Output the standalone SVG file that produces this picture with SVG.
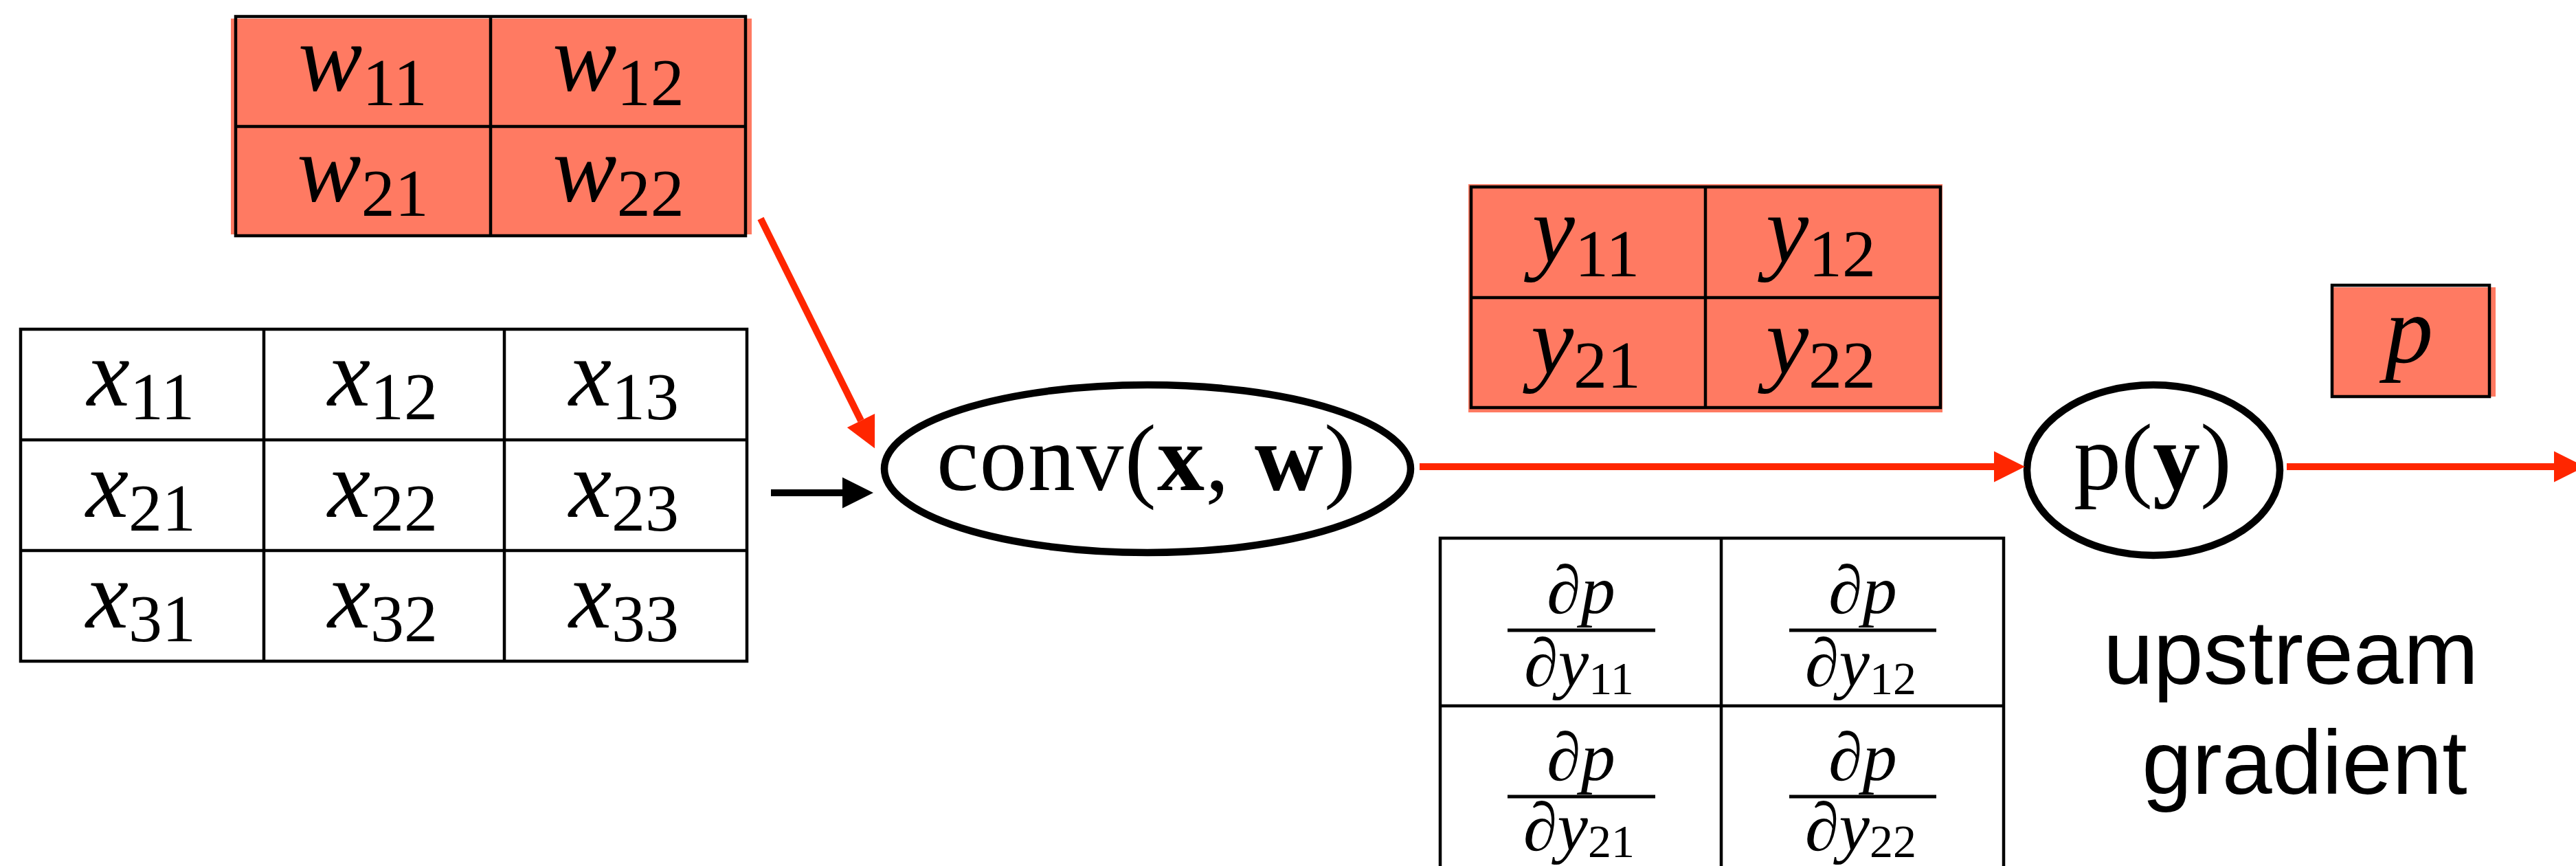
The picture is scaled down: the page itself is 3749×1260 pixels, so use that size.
<svg xmlns="http://www.w3.org/2000/svg" width="3749" height="1260" viewBox="0 0 3749 1260">
<style>
.bg{fill:#fff}
.fill{fill:#FF7A62}
.grid{fill:none;stroke:#000;stroke-width:4.5}
.node{fill:#fff;stroke:#000;stroke-width:10.5}
.m{font-family:"Liberation Serif","Times New Roman",serif;font-style:italic;font-size:140px;fill:#000}
.sub{font-style:normal;font-size:98px}
.fr{font-family:"Liberation Serif","Times New Roman",serif;font-style:italic;font-size:100px;fill:#000}
.fsub{font-style:normal;font-size:68px}
.rm{font-family:"Liberation Serif","Times New Roman",serif;font-size:138px;fill:#000}
.b{font-weight:bold}
.lbl{font-family:"Liberation Sans",Arial,sans-serif;font-size:131px;fill:#000}
.red{stroke:#FF2600;stroke-width:10;fill:none}
.blk{stroke:#000;stroke-width:10;fill:none}
.bar{stroke:#000;stroke-width:5}
</style>
<defs>
<marker id="ahRed" markerUnits="userSpaceOnUse" markerWidth="45" markerHeight="45" viewBox="0 0 45 45" refX="0" refY="22.5" orient="auto" overflow="visible">
<path d="M0,0 L45,22.5 L0,45 Z" fill="#FF2600"/>
</marker>
<marker id="ahBlk" markerUnits="userSpaceOnUse" markerWidth="45" markerHeight="45" viewBox="0 0 45 45" refX="0" refY="22.5" orient="auto" overflow="visible">
<path d="M0,0 L45,22.5 L0,45 Z" fill="#000"/>
</marker>
</defs>
<rect class="bg" x="0" y="0" width="3749" height="1260"/>

<g id="weights">
<rect class="fill" x="336" y="27" width="758" height="314"/>
<rect class="grid" x="343" y="24" width="742" height="319"/>
<line class="grid" x1="714" y1="24" x2="714" y2="343"/>
<line class="grid" x1="343" y1="184" x2="1085" y2="184"/>
<text class="m" x="528" y="132" text-anchor="middle">w<tspan class="sub" dy="21">11</tspan></text>
<text class="m" x="900" y="132" text-anchor="middle">w<tspan class="sub" dy="21">12</tspan></text>
<text class="m" x="528" y="293" text-anchor="middle">w<tspan class="sub" dy="21">21</tspan></text>
<text class="m" x="900" y="293" text-anchor="middle">w<tspan class="sub" dy="21">22</tspan></text>
</g>

<g id="input">
<rect class="grid" x="30" y="479" width="1057" height="483"/>
<line class="grid" x1="384" y1="479" x2="384" y2="962"/>
<line class="grid" x1="734" y1="479" x2="734" y2="962"/>
<line class="grid" x1="30" y1="640" x2="1087" y2="640"/>
<line class="grid" x1="30" y1="801" x2="1087" y2="801"/>
<text class="m" x="205" y="590" text-anchor="middle">x<tspan class="sub" dy="20">11</tspan></text>
<text class="m" x="557" y="590" text-anchor="middle">x<tspan class="sub" dy="20">12</tspan></text>
<text class="m" x="908" y="590" text-anchor="middle">x<tspan class="sub" dy="20">13</tspan></text>
<text class="m" x="205" y="752" text-anchor="middle">x<tspan class="sub" dy="20">21</tspan></text>
<text class="m" x="557" y="752" text-anchor="middle">x<tspan class="sub" dy="20">22</tspan></text>
<text class="m" x="908" y="752" text-anchor="middle">x<tspan class="sub" dy="20">23</tspan></text>
<text class="m" x="205" y="913" text-anchor="middle">x<tspan class="sub" dy="20">31</tspan></text>
<text class="m" x="557" y="913" text-anchor="middle">x<tspan class="sub" dy="20">32</tspan></text>
<text class="m" x="908" y="913" text-anchor="middle">x<tspan class="sub" dy="20">33</tspan></text>
</g>

<g id="conv">
<ellipse class="node" cx="1670" cy="682" rx="383" ry="122"/>
<text class="rm" x="1363" y="713" textLength="610" lengthAdjust="spacing">conv(<tspan class="b">x</tspan>, <tspan class="b">w</tspan>)</text>
</g>

<g id="output">
<rect class="fill" x="2137" y="268" width="690" height="332"/>
<rect class="grid" x="2141" y="272" width="683" height="321"/>
<line class="grid" x1="2482" y1="272" x2="2482" y2="593"/>
<line class="grid" x1="2141" y1="433" x2="2824" y2="433"/>
<text class="m" x="2308" y="381" text-anchor="middle">y<tspan class="sub" dy="21">11</tspan></text>
<text class="m" x="2650" y="381" text-anchor="middle">y<tspan class="sub" dy="21">12</tspan></text>
<text class="m" x="2308" y="543" text-anchor="middle">y<tspan class="sub" dy="21">21</tspan></text>
<text class="m" x="2650" y="543" text-anchor="middle">y<tspan class="sub" dy="21">22</tspan></text>
</g>

<g id="gradient">
<rect class="grid" x="2096" y="783" width="820" height="490"/>
<line class="grid" x1="2505" y1="783" x2="2505" y2="1273"/>
<line class="grid" x1="2096" y1="1027" x2="2916" y2="1027"/>
<text class="fr" x="2301" y="892" text-anchor="middle">∂p</text>
<line class="bar" x1="2194" y1="917" x2="2409" y2="917"/>
<text class="fr" x="2298" y="998" text-anchor="middle">∂y<tspan class="fsub" dy="12">11</tspan></text>
<text class="fr" x="2711" y="892" text-anchor="middle">∂p</text>
<line class="bar" x1="2604" y1="917" x2="2818" y2="917"/>
<text class="fr" x="2708" y="998" text-anchor="middle">∂y<tspan class="fsub" dy="12">12</tspan></text>
<text class="fr" x="2301" y="1135" text-anchor="middle">∂p</text>
<line class="bar" x1="2194" y1="1159" x2="2409" y2="1159"/>
<text class="fr" x="2298" y="1237" text-anchor="middle">∂y<tspan class="fsub" dy="10">21</tspan></text>
<text class="fr" x="2711" y="1135" text-anchor="middle">∂p</text>
<line class="bar" x1="2604" y1="1159" x2="2818" y2="1159"/>
<text class="fr" x="2708" y="1237" text-anchor="middle">∂y<tspan class="fsub" dy="10">22</tspan></text>
</g>

<g id="py">
<ellipse class="node" cx="3134" cy="684" rx="184" ry="124"/>
<text class="rm" x="3133" y="712" text-anchor="middle">p(<tspan class="b">y</tspan>)</text>
</g>

<g id="pvalue">
<rect class="fill" x="3395" y="418" width="237" height="159"/>
<rect class="grid" x="3394" y="415" width="229" height="162"/>
<text class="m" x="3506" y="527" text-anchor="middle">p</text>
</g>

<g id="label">
<text class="lbl" x="3334" y="995" text-anchor="middle">upstream</text>
<text class="lbl" x="3354" y="1155" text-anchor="middle">gradient</text>
</g>

<g id="connectors">
<line class="red" x1="1107" y1="318" x2="1253" y2="612" marker-end="url(#ahRed)"/>
<line class="blk" x1="1122" y1="717" x2="1226" y2="717" marker-end="url(#ahBlk)"/>
<line class="red" x1="2066" y1="679" x2="2902" y2="679" marker-end="url(#ahRed)"/>
<line class="red" x1="3328" y1="679" x2="3717" y2="679" marker-end="url(#ahRed)"/>
</g>
</svg>
